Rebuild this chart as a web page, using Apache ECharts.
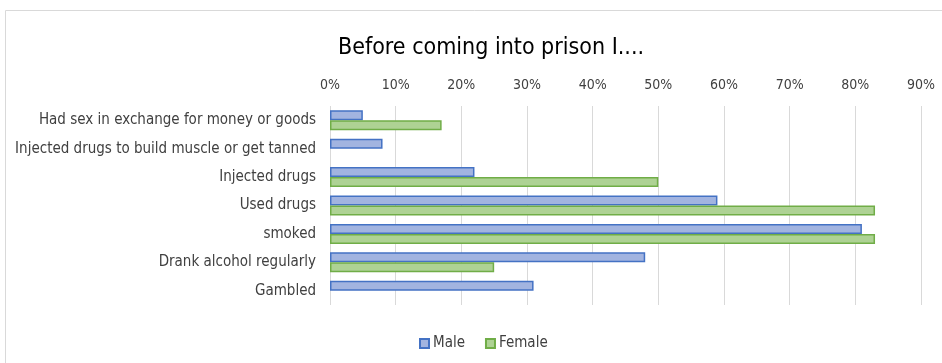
<!DOCTYPE html>
<html><head><meta charset="utf-8">
<script src="https://cdn.jsdelivr.net/npm/echarts@6/dist/echarts.min.js"></script>
<style>html,body{margin:0;padding:0;background:#fff}#c{width:942px;height:363px}</style>
</head><body><div id="c"></div>
<script>
var categories = ["Had sex in exchange for money or goods","Injected drugs to build muscle or get tanned","Injected drugs","Used drugs","smoked","Drank alcohol regularly","Gambled"];
var maleValues = [5, 8, 22, 59, 81, 48, 31];
var femaleValues = [17, null, 50, 83, 83, 25, null];
var titleText = "Before coming into prison I....";
var FONT = "'Liberation Sans Narrow','DejaVu Sans Condensed','Open Sans',sans-serif";
var chart = echarts.init(document.getElementById('c'));
chart.setOption({
  animation: false,
  textStyle: {fontFamily: FONT},
  title: {text: titleText, left: 486, top: 32, textAlign: 'center',
    textStyle: {fontSize: 23, fontWeight: 'normal', color: '#000', fontFamily: FONT}},
  graphic: [{type:'rect', shape:{x:5.5,y:10.5,width:940,height:360}, style:{fill:'none', stroke:'#d9d9d9', lineWidth:1}, silent:true}],
  legend: {data:['Male','Female'], bottom: 7, left: 414, itemWidth: 9, itemHeight: 9, itemGap: 20, icon: 'rect',
    textStyle: {fontSize: 15, color: '#404040', fontFamily: FONT, padding: [0,0,0,-1]}},
  grid: {left: 330, right: 21, top: 106, bottom: 58, containLabel: false},
  xAxis: {type: 'value', position: 'top', min: 0, max: 0.9, interval: 0.1,
    axisLine: {show: false}, axisTick: {show: false},
    axisLabel: {formatter: function(v){return Math.round(v*100)+'%';}, fontSize: 14, color: '#404040', margin: 14},
    splitLine: {lineStyle: {color: '#d9d9d9'}}},
  yAxis: {type: 'category', data: categories, inverse: true,
    axisLine: {show: false}, axisTick: {show: false},
    axisLabel: {fontSize: 15, color: '#404040', margin: 14}},
  series: [
    {name:'Male', type:'bar', data: maleValues.map(function(v){return v==null?null:v/100;}), barWidth: 10, barGap: '0%',
     itemStyle: {color: '#a2b4e0', borderColor: '#4472c4', borderWidth: 1.5}},
    {name:'Female', type:'bar', data: femaleValues.map(function(v){return v==null?null:v/100;}), barWidth: 10, barGap: '0%',
     itemStyle: {color: '#aed294', borderColor: '#70ad47', borderWidth: 1.5}}
  ]
});
</script></body></html>
